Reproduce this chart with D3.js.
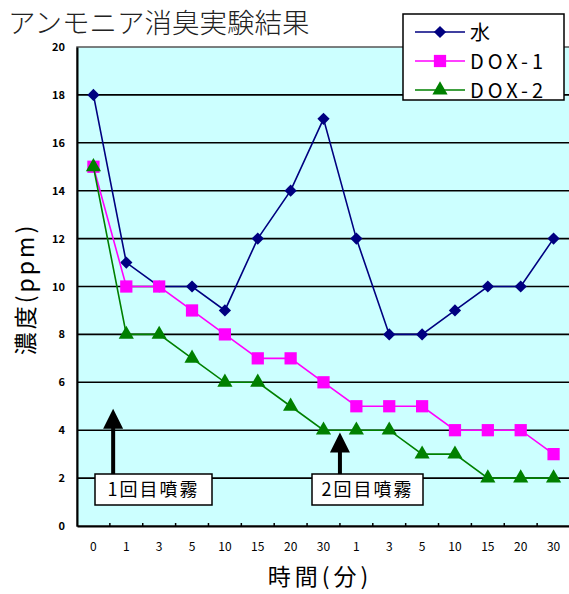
<!DOCTYPE html>
<html>
<head>
  <meta charset="utf-8">
  <script src="https://cdn.jsdelivr.net/npm/d3@7"></script>
  <style>
    body { margin: 0; background: #fff; }
    text { font-family: "Noto Sans CJK JP", "DejaVu Sans", sans-serif; }
  </style>
</head>
<body>
<script>
  // categories: minutes after each spray
  var times = ["0", "1", "3", "5", "10", "15", "20", "30", "1", "3", "5", "10", "15", "20", "30"];
  var water = [18, 11, 10, 10, 9, 12, 14, 17, 12, 8, 8, 9, 10, 10, 12];
  var dox1  = [15, 10, 10, 9, 8, 7, 7, 6, 5, 5, 5, 4, 4, 4, 3];
  var dox2  = [15, 8, 8, 7, 6, 6, 5, 4, 4, 4, 3, 3, 2, 2, 2];
  var yTicks = [0, 2, 4, 6, 8, 10, 12, 14, 16, 18, 20];
  var seriesNames = ["水", "DOX-1", "DOX-2"];
  var sprays = [{ idx: 0.6, label: "1回目噴霧", tip: 4.9 }, { idx: 7.5, label: "2回目噴霧", tip: 3.9 }];

  var W = 569, H = 594;
  var pL = 77, pT = 47, pR = 570, pB = 526;

  var svg = d3.select("body").append("svg")
    .attr("width", W).attr("height", H);

  var x = d3.scaleBand().domain(d3.range(times.length)).range([pL, pR]);
  var y = d3.scaleLinear().domain([0, 20]).range([pB, pT]);

  // plot background
  svg.append("rect")
    .attr("x", pL).attr("y", pT)
    .attr("width", pR - pL).attr("height", pB - pT)
    .attr("fill", "#ccffff")
    .attr("stroke", "#555").attr("stroke-width", 1.5);

  // gridlines
  svg.append("g").selectAll("line")
    .data(yTicks.filter(function(d) { return d > 0 && d < 20; }))
    .join("line")
    .attr("x1", pL).attr("x2", pR)
    .attr("y1", function(d) { return y(d); })
    .attr("y2", function(d) { return y(d); })
    .attr("stroke", "#000").attr("stroke-width", 1.6);

  // y axis
  var yAxis = svg.append("g")
    .attr("transform", "translate(" + pL + ",0)")
    .call(d3.axisLeft(y).tickValues(yTicks).tickSize(0).tickPadding(12));
  yAxis.select(".domain").attr("stroke", "#000").attr("stroke-width", 2);
  yAxis.selectAll("text").attr("font-size", 11).attr("fill", "#000")
    .attr("font-family", "DejaVu Sans").attr("font-weight", "bold");

  // x axis
  var xAxis = svg.append("g")
    .attr("transform", "translate(0," + pB + ")")
    .call(d3.axisBottom(x).tickFormat(function(i) { return times[i]; }).tickSize(0).tickPadding(16));
  xAxis.select(".domain").attr("stroke", "#000").attr("stroke-width", 2);
  xAxis.selectAll("text").attr("font-size", 12).attr("fill", "#000")
    .attr("font-family", "DejaVu Sans");
  // small tick marks between categories
  svg.append("g").selectAll("line")
    .data(d3.range(1, times.length))
    .join("line")
    .attr("x1", function(i) { return x(i); })
    .attr("x2", function(i) { return x(i); })
    .attr("y1", pB - 3).attr("y2", pB)
    .attr("stroke", "#000").attr("stroke-width", 1.5);

  var cx = function(d, i) { return x(i) + x.bandwidth() / 2; };
  var line = d3.line().x(cx).y(function(d) { return y(d); });

  var series = [
    { name: seriesNames[0], values: water, color: "#000080", symbol: d3.symbolSquare, size: 75, rot: 45 },
    { name: seriesNames[1], values: dox1, color: "#ff00ff", symbol: d3.symbolSquare, size: 150, rot: 0 },
    { name: seriesNames[2], values: dox2, color: "#008000", symbol: d3.symbolTriangle, size: 100, rot: 0 }
  ];

  // spray arrows
  sprays.forEach(function(s) {
    var ax = x(0) + x.bandwidth() * (s.idx + 0.5);
    var g = svg.append("g");
    g.append("line")
      .attr("x1", ax).attr("x2", ax)
      .attr("y1", y(2) - 4).attr("y2", y(s.tip) + 18)
      .attr("stroke", "#000").attr("stroke-width", 4);
    g.append("path")
      .attr("d", "M" + ax + "," + y(s.tip) + " L" + (ax - 10) + "," + (y(s.tip) + 20) + " L" + (ax + 10) + "," + (y(s.tip) + 20) + " Z")
      .attr("fill", "#000");
  });

  // later series drawn on top
  series.forEach(function(s) {
    svg.append("path")
      .datum(s.values)
      .attr("d", line)
      .attr("fill", "none")
      .attr("stroke", s.color)
      .attr("stroke-width", 1.6);
    svg.append("g").selectAll("path")
      .data(s.values)
      .join("path")
      .attr("transform", function(d, i) { return "translate(" + cx(d, i) + "," + y(d) + ") rotate(" + s.rot + ")"; })
      .attr("d", d3.symbol().type(s.symbol).size(s.size))
      .attr("fill", s.color);
  });

  // spray label boxes (drawn above lines)
  var boxes = [{ x0: 95, x1: 212 }, { x0: 312, x1: 423 }];
  sprays.forEach(function(s, k) {
    var b = boxes[k];
    svg.append("rect")
      .attr("x", b.x0).attr("y", 474)
      .attr("width", b.x1 - b.x0).attr("height", 31)
      .attr("fill", "#fff").attr("stroke", "#000").attr("stroke-width", 1.5);
    svg.append("text")
      .attr("x", (b.x0 + b.x1) / 2).attr("y", 496)
      .attr("text-anchor", "middle")
      .attr("font-size", 18)
      .attr("letter-spacing", 2)
      .text(s.label);
  });

  // title
  svg.append("text")
    .attr("x", 8).attr("y", 33)
    .attr("font-size", 27.5)
    .attr("font-weight", 300)
    .attr("fill", "#222")
    .text("アンモニア消臭実験結果");

  // axis titles
  svg.append("text")
    .attr("x", 320).attr("y", 585)
    .attr("text-anchor", "middle")
    .attr("font-size", 23)
    .attr("letter-spacing", 4)
    .text("時間(分)");
  svg.append("text")
    .attr("transform", "translate(34,289) rotate(-90)")
    .attr("text-anchor", "middle")
    .attr("font-size", 23)
    .attr("letter-spacing", 3)
    .text("濃度(ppm)");

  // legend
  var lg = svg.append("g").attr("transform", "translate(403,14)");
  lg.append("rect")
    .attr("width", 161).attr("height", 86)
    .attr("fill", "#fff").attr("stroke", "#000").attr("stroke-width", 1.5);
  series.forEach(function(s, k) {
    var ly = 18 + k * 29;
    lg.append("line")
      .attr("x1", 12).attr("x2", 62).attr("y1", ly).attr("y2", ly)
      .attr("stroke", s.color).attr("stroke-width", 1.6);
    lg.append("path")
      .attr("transform", "translate(37," + ly + ") rotate(" + s.rot + ")")
      .attr("d", d3.symbol().type(s.symbol).size(s.size))
      .attr("fill", s.color);
    lg.append("text")
      .attr("x", 67).attr("y", ly + 8)
      .attr("font-size", 20)
      .attr("letter-spacing", 4)
      .text(s.name);
  });
</script>
</body>
</html>
